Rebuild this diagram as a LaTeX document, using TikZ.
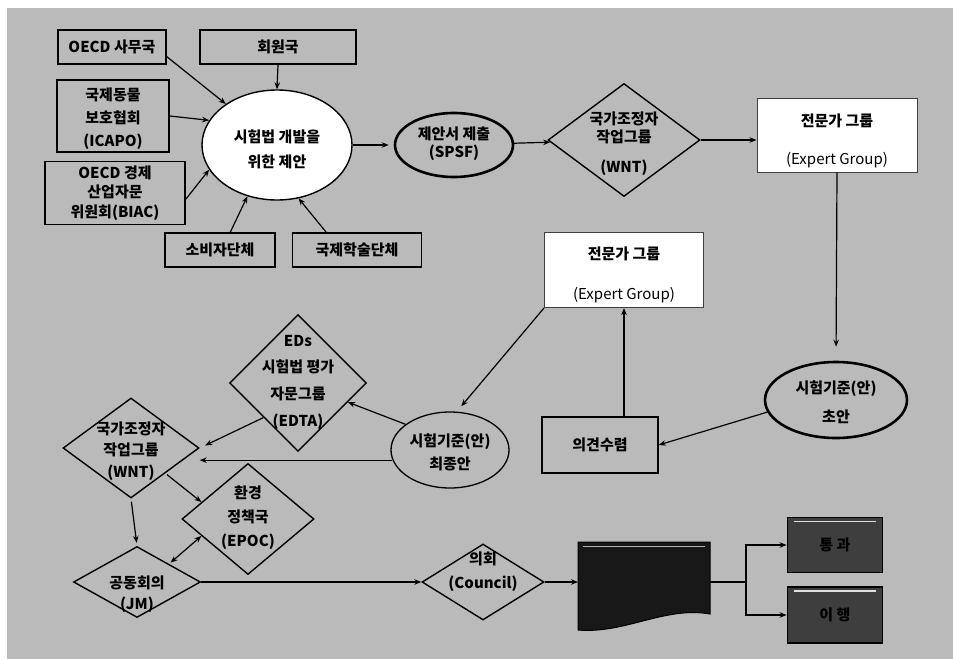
\documentclass[tikz,border=0pt]{standalone}
\usepackage{fontspec}
\newfontfamily\kr{Noto Sans CJK KR}
\usetikzlibrary{shapes.geometric,arrows.meta,calc}
\definecolor{bg}{RGB}{186,186,186}
\definecolor{darkbox}{RGB}{62,62,62}
\definecolor{docfill}{RGB}{24,24,24}
\begin{document}
\begin{tikzpicture}[x=1pt,y=-1pt,
 box/.style={draw=black,line width=1.6pt,rectangle,inner sep=0pt},
 wbox/.style={draw=black!75,line width=1pt,fill=white,rectangle,inner sep=0pt},
 ell/.style={draw=black,ellipse,inner sep=0pt},
 dia/.style={draw=black,diamond,line width=1.4pt,inner sep=0pt},
 dbox/.style={draw=black,line width=1.8pt,fill=darkbox,rectangle,inner sep=0pt,minimum width=95pt,minimum height=55pt},
 txt/.style={font=\kr\bfseries\fontsize{15}{22}\selectfont,align=center,inner sep=0pt},
 dtxt/.style={font=\kr\bfseries\fontsize{15}{22}\selectfont,align=center,inner sep=0pt,text=black},
 arr/.style={-{Stealth[length=7pt,width=5.5pt]},line width=1.2pt},
 ln/.style={line width=1.2pt},
]
\useasboundingbox (0,0) rectangle (953,659);
\fill[white] (0,0) rectangle (953,659);
\fill[bg] (7,8) rectangle (953,659);

% ---- top-left sources ----
\node[box,minimum width=108pt,minimum height=34pt] (oecd) at (112,47) {};
\node[txt] (oecdt) at (oecd) {OECD 사무국};
\node[box,minimum width=156pt,minimum height=34pt] (mem) at (278,47) {};
\node[txt] (memt) at (mem) {회원국};
\node[box,minimum width=112pt,minimum height=72pt] (icapo) at (113,116) {};
\node[txt] (icapot) at (113,119) {국제동물\\[1pt]보호협회\\[1pt](ICAPO)};
\node[box,minimum width=140pt,minimum height=63pt] (biac) at (115,193) {};
\node[txt] (biact) at (115,193) {OECD 경제\\[-2.5pt]산업자문\\[-2.5pt]위원회(BIAC)};
\node[box,minimum width=110pt,minimum height=34pt] (cons) at (220,250) {};
\node[txt] (const) at (cons) {소비자단체};
\node[box,minimum width=129pt,minimum height=34pt] (acad) at (357,250) {};
\node[txt] (acadt) at (acad) {국제학술단체};

% ---- proposal ellipse ----
\node[ell,fill=white,line width=1.4pt,minimum width=150pt,minimum height=110pt] (prop) at (277,145) {};
\node[txt] (propt) at (277,149) {시험법 개발을\\[3pt]위한 제안};

\node[ell,line width=2.6pt,minimum width=118pt,minimum height=64pt] (spsf) at (454,145) {};
\node[txt] (spsft) at (454,144) {제안서 제출\\[-4pt](SPSF)};

\node[dia,minimum width=152pt,minimum height=113pt] (wnt1) at (624,140) {};
\node[txt] (wnt1t) at (624,144) {국가조정자\\[-4pt]작업그룹\\[8pt](WNT)};

\node[wbox,minimum width=160pt,minimum height=74pt] (ex1) at (837,135) {};
\node[txt] (ex1t) at (837,141) {전문가 그룹\\[16pt]{\mdseries (Expert Group)}};

\node[ell,line width=2.6pt,minimum width=142pt,minimum height=76pt] (draft) at (836,400) {};
\node[txt] (draftt) at (836,402) {시험기준(안)\\[7pt]초안};

\node[wbox,minimum width=159pt,minimum height=75pt] (ex2) at (624,270) {};
\node[txt] (ex2t) at (624,275) {전문가 그룹\\[18pt]{\mdseries (Expert Group)}};

\node[box,line width=1.3pt,minimum width=116pt,minimum height=56pt] (opin) at (600,445) {};
\node[txt] (opint) at (opin) {의견수렴};

\node[ell,line width=1.3pt,minimum width=118pt,minimum height=76pt] (final) at (450,450) {};
\node[txt] (finalt) at (450,452) {시험기준(안)\\[1pt]최종안};

\node[dia,minimum width=137pt,minimum height=137pt] (edta) at (298,383) {};
\node[txt] (edtat) at (298,382) {EDs\\[4.7pt]시험법 평가\\[4.7pt]자문그룹\\[4.7pt](EDTA)};

\node[dia,minimum width=136pt,minimum height=100pt] (wnt2) at (131,448) {};
\node[txt] (wnt2t) at (131,451) {국가조정자\\[-0.5pt]작업그룹\\[-0.5pt](WNT)};

\node[dia,minimum width=132pt,minimum height=111pt] (epoc) at (248,519) {};
\node[txt] (epoct) at (248,518) {환경\\[2pt]정책국\\[2pt](EPOC)};

\node[dia,minimum width=127pt,minimum height=71pt] (jm) at (137,582) {};
\node[txt] (jmt) at (137,594) {공동회의\\[-1pt](JM)};

\node[dia,minimum width=122pt,minimum height=76pt] (council) at (483,582) {};
\node[txt] (councilt) at (483,572) {의회\\[2pt](Council)};

% ---- document and outcomes ----
\path[fill=docfill,draw=black,line width=1pt] (578,542) -- (710,542) -- (710,614) .. controls (665,606) and (625,634) .. (578,630) -- cycle;
\draw[gray!60,line width=1pt] (583,546) -- (705,546);
\coordinate (docL) at (578,582);
\coordinate (docR) at (710,582);
\coordinate (br) at (746,582);

\node[dbox] (pass) at (835,545) {};
\node[dtxt] (passt) at (pass) {통 과};
\node[dbox,minimum height=56pt] (impl) at (835,615) {};
\node[dtxt] (implt) at (impl) {이 행};
\draw[gray!25,line width=1.5pt] ($(pass.north west)+(7,5)$) -- ($(pass.north east)+(-7,5)$);
\draw[gray!25,line width=1.5pt] ($(impl.north west)+(7,5)$) -- ($(impl.north east)+(-7,5)$);

% ---- connectors ----
\draw[arr] (oecd.-10) -- (prop);
\draw[arr] (mem.south) -- (prop.north);
\draw[arr] (icapo.east) -- (prop.160);
\draw[arr] (biac.-5) -- (prop.200);
\draw[arr] (cons.60) -- (prop.240);
\draw[arr] (acad.150) -- (prop.292);
\draw[arr,shorten >=5pt] (prop.east) -- (spsf.west);
\draw[arr] (spsf) -- (wnt1);
\draw[arr] (wnt1.east) -- (wnt1.east -| ex1.west);
\draw[arr,shorten >=14pt] (ex1.south) -- (draft.north);
\draw[arr] (draft.190) -- (opin.east);
\draw[arr] (ex2.south |- opin.north) -- (ex2.south);
\draw[arr,shorten >=7pt] (ex2.south west) -- (final.80);
\draw[arr] (final.150) -- (edta);
\draw[arr,shorten >=6pt] (edta.south west) -- (wnt2.east);
\draw[arr] (final.190) -- (final.190 -| wnt2.east);
\draw[arr,shorten <=3pt,shorten >=3pt] (wnt2.south) -- (jm.north);
\draw[arr,shorten <=2pt] (wnt2.south east) -- (epoc.160);
\draw[{Stealth[length=7pt,width=5.5pt]}-{Stealth[length=7pt,width=5.5pt]},line width=1.2pt,shorten <=2pt] (jm.north east) -- (epoc.200);
\draw[arr] (jm.east) -- (council.west);
\draw[arr] (council.east) -- (docL);
\draw[ln] (docR) -- (br);
\draw[arr] (br) |- (pass.west);
\draw[arr] (br) |- (impl.west);
\end{tikzpicture}
\end{document}
